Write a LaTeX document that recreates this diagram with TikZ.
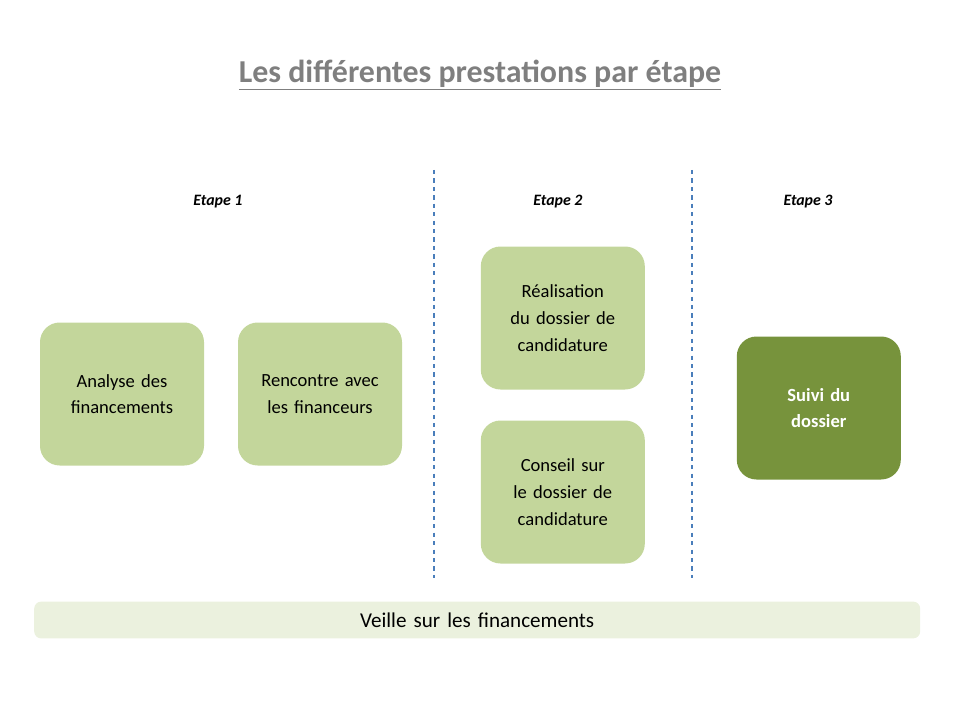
\documentclass[tikz,border=0pt]{standalone}
\usepackage{fontspec}
\setmainfont{Carlito}
\usepackage{tikz}
\usetikzlibrary{positioning,calc}
\definecolor{lightgreen}{HTML}{C3D69B}
\definecolor{darkgreen}{HTML}{77933C}
\definecolor{palegreen}{HTML}{EBF1DE}
\definecolor{titlegray}{HTML}{7F7F7F}
\definecolor{sepblue}{HTML}{4A7EBB}
\tikzset{
    block/.style = {
        shape=rectangle,
        rounded corners=14pt,
        fill=lightgreen,
        minimum height=3.575cm,
        minimum width=4.1cm,
        text width=3.6cm,
        align=center,
        font=\fontsize{13.2}{19}\selectfont
    },
    active/.style = {
        block,
        fill=darkgreen,
        text=white,
        font=\fontsize{13.2}{19}\selectfont\bfseries
    },
    step/.style = {},
    stage/.style = {
        font=\fontsize{11.3}{13}\selectfont\bfseries\itshape
    },
    separator/.style = {
        draw=sepblue,
        dashed,
        line width=0.8pt
    },
}
\begin{document}
\begin{tikzpicture}
    \useasboundingbox (0,0) rectangle (24,18);
    % title
    \node[text=titlegray, font=\fontsize{22.7}{26}\selectfont\bfseries] (title) at (12,16.12)
        {\underline{Les différentes prestations par étape}};
    % stages
    \node[stage] (etape1) at (5.45,12.97) {Etape 1};
    \node[stage] (etape2) at (13.95,12.97) {Etape 2};
    \node[stage] (etape3) at (20.2,12.97) {Etape 3};
    % separators
    \coordinate (sepa) at (10.85,13.75);
    \coordinate (sepb) at (10.85,3.55);
    \coordinate (sepc) at (17.3,13.75);
    \coordinate (sepd) at (17.3,3.55);
    \draw[separator] (sepa) -- (sepb);
    \draw[separator] (sepc) -- (sepd);
    % boxes
    \node[block] (analyse) at (3.05,8.15) {Analyse des financements};
    \node[block] (rencontre) at (8.0,8.15) {Rencontre avec les financeurs};
    \node[block] (realisation) at (14.07,10.05) {Réalisation\ \ du dossier de candidature};
    \node[block] (conseil) at (14.07,5.7) {Conseil sur le dossier de candidature};
    \node[active] (suivi) at (20.47,7.8) {Suivi du\\dossier};
    % watch
    \node[block, fill=palegreen, rounded corners=5pt, minimum width=22.15cm,
        minimum height=0.92cm, text width=21cm,
        font=\fontsize{15}{18}\selectfont] (veille) at (11.93,2.5) {Veille sur les financements};
\end{tikzpicture}
\end{document}
